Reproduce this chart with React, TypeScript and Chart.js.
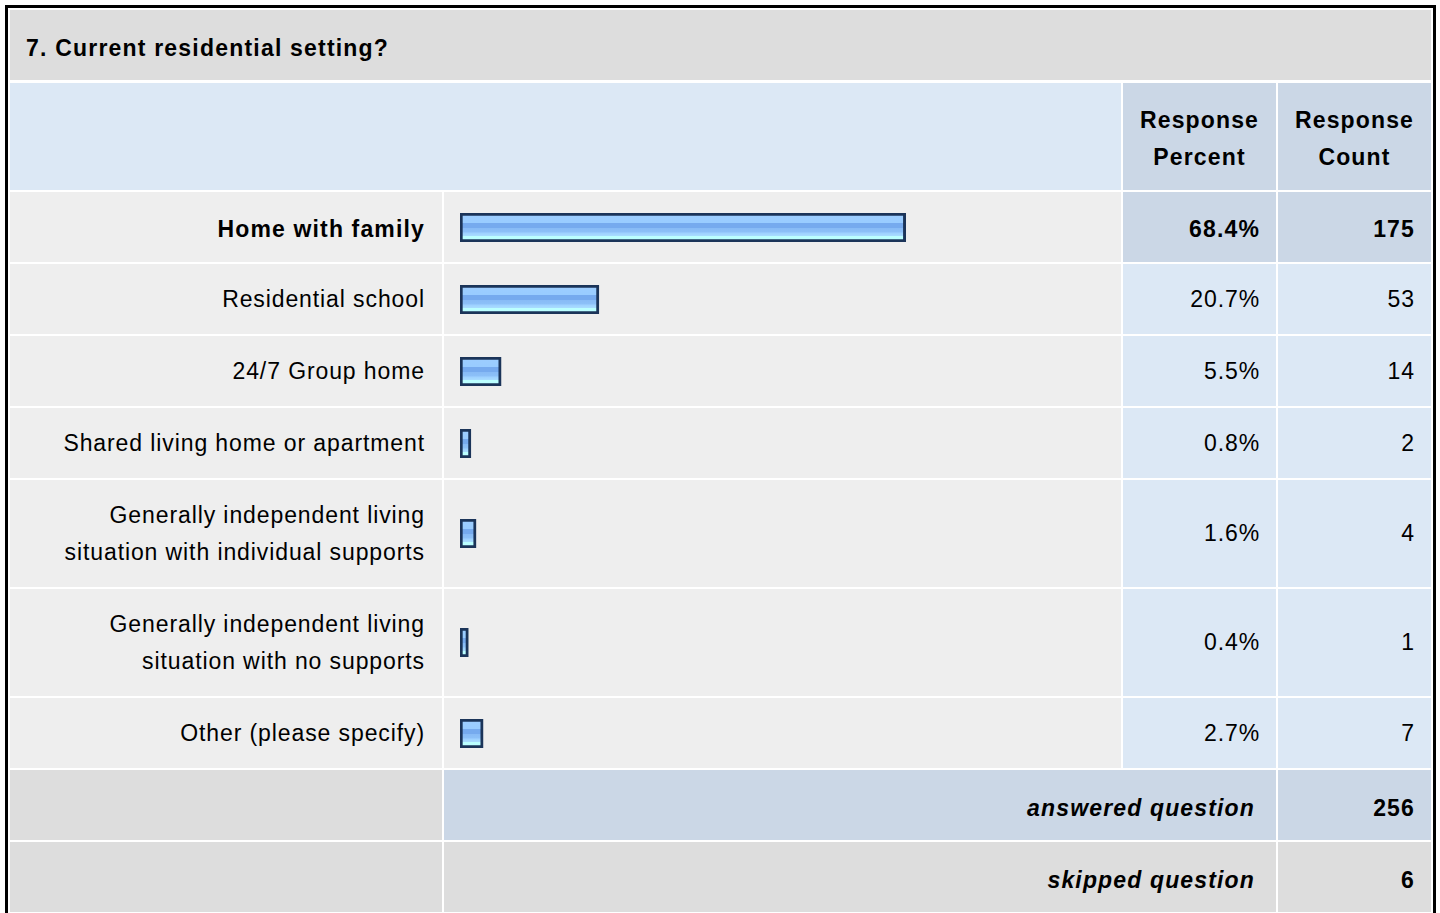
import React, { useEffect, useRef } from "react";
import { Chart, registerables } from "chart.js";

Chart.register(...registerables);

const title = "7. Current residential setting?";
const headerPercent = ["Response", "Percent"];
const headerCount = ["Response", "Count"];
const categories: string[][] = [
  ["Home with family"],
  ["Residential school"],
  ["24/7 Group home"],
  ["Shared living home or apartment"],
  ["Generally independent living", "situation with individual supports"],
  ["Generally independent living", "situation with no supports"],
  ["Other (please specify)"],
];
const percents = [68.4, 20.7, 5.5, 0.8, 1.6, 0.4, 2.7];
const percentLabels = ["68.4%", "20.7%", "5.5%", "0.8%", "1.6%", "0.4%", "2.7%"];
const counts = [175, 53, 14, 2, 4, 1, 7];
const answeredLabel = "answered question";
const answeredCount = 256;
const skippedLabel = "skipped question";
const skippedCount = 6;

const FONT = '"Liberation Sans", Arial, Helvetica, sans-serif';
const FS = 23;
const LS = "0.9px";
const LSB = "1.15px";

function BarCell({ value }: { value: number }) {
  const ref = useRef<HTMLCanvasElement | null>(null);
  useEffect(() => {
    if (!ref.current) return;
    const chart = new Chart(ref.current, {
      type: "bar",
      data: {
        labels: [""],
        datasets: [
          {
            data: [value],
            base: -0.9,
            backgroundColor: (ctx: any) => {
              const ch = ctx.chart;
              const area = ch.chartArea;
              if (!area) return "#99ccff";
              const g = ch.ctx.createLinearGradient(0, area.top + 3, 0, area.bottom - 3);
              g.addColorStop(0, "#9ccdff");
              g.addColorStop(0.29, "#99ccff");
              g.addColorStop(0.31, "#76aaee");
              g.addColorStop(0.5, "#76aaee");
              g.addColorStop(0.53, "#88bbf6");
              g.addColorStop(0.7, "#8cc0f8");
              g.addColorStop(0.73, "#9dd0ff");
              g.addColorStop(0.86, "#a8dcff");
              g.addColorStop(0.89, "#bbffff");
              g.addColorStop(1, "#bbffff");
              return g;
            },
            borderColor: "#1b3459",
            borderWidth: 3,
            borderSkipped: false,
            barPercentage: 1,
            categoryPercentage: 1,
          } as any,
        ],
      },
      options: {
        indexAxis: "y",
        responsive: false,
        maintainAspectRatio: false,
        animation: false,
        layout: { padding: 0 },
        plugins: { legend: { display: false }, tooltip: { enabled: false } },
        scales: {
          x: { display: false, min: -0.9, max: 100 },
          y: { display: false },
        },
      },
    });
    return () => chart.destroy();
  }, [value]);
  return (
    <canvas
      ref={ref}
      width={649}
      height={29}
      style={{ position: "absolute", left: 16, top: "50%", marginTop: -14.5, width: 649, height: 29 }}
    />
  );
}

const cellBase: React.CSSProperties = {
  display: "flex",
  alignItems: "center",
  fontFamily: FONT,
  fontSize: FS,
  letterSpacing: LS,
  color: "#000",
  lineHeight: "37px",
  boxSizing: "border-box",
};

const boldCell: React.CSSProperties = {
  fontWeight: "bold",
  letterSpacing: LSB,
  paddingTop: 4,
};

export default function App() {
  const rowHeights = categories.map((c) => (c.length > 1 ? 107 : 70));
  const gridRows = ["71px", "107px", ...rowHeights.map((h) => h + "px"), "70px", "70px"].join(" ");
  return (
    <div
      style={{
        position: "absolute",
        left: 5,
        top: 5,
        border: "3px solid #000",
        background: "#fff",
        padding: 2,
        width: 1421,
      }}
    >
      <div
        style={{
          display: "grid",
          gridTemplateColumns: "432px 677px 153px 153px",
          gridTemplateRows: gridRows,
          columnGap: 2,
          rowGap: 2,
        }}
      >
        <div
          style={{
            ...cellBase,
            ...boldCell,
            gridColumn: "1 / 5",
            height: 70,
            alignSelf: "start",
            background: "#dddddd",
            paddingLeft: 16,
            paddingTop: 6,
            letterSpacing: "1.2px",
          }}
        >
          {title}
        </div>
        <div style={{ ...cellBase, gridColumn: "1 / 3", background: "#dce8f5" }} />
        <div
          style={{
            ...cellBase,
            ...boldCell,
            background: "#cbd7e6",
            justifyContent: "center",
            textAlign: "center",
          }}
        >
          <div>
            {headerPercent[0]}
            <br />
            {headerPercent[1]}
          </div>
        </div>
        <div
          style={{
            ...cellBase,
            ...boldCell,
            background: "#cbd7e6",
            justifyContent: "center",
            textAlign: "center",
          }}
        >
          <div>
            {headerCount[0]}
            <br />
            {headerCount[1]}
          </div>
        </div>
        {categories.map((lines, i) => {
          const top = i === 0;
          const numBg = top ? "#cbd7e6" : "#dce8f5";
          const weight = top ? boldCell : {};
          return (
            <React.Fragment key={i}>
              <div
                style={{
                  ...cellBase,
                  ...weight,
                  background: "#eeeeee",
                  justifyContent: "flex-end",
                  textAlign: "right",
                  paddingRight: 17,
                }}
              >
                <div>
                  {lines.map((l, j) => (
                    <React.Fragment key={j}>
                      {j > 0 && <br />}
                      {l}
                    </React.Fragment>
                  ))}
                </div>
              </div>
              <div style={{ ...cellBase, background: "#eeeeee", position: "relative" }}>
                <BarCell value={percents[i]} />
              </div>
              <div
                style={{
                  ...cellBase,
                  ...weight,
                  background: numBg,
                  justifyContent: "flex-end",
                  paddingRight: 16,
                }}
              >
                {percentLabels[i]}
              </div>
              <div
                style={{
                  ...cellBase,
                  ...weight,
                  background: numBg,
                  justifyContent: "flex-end",
                  paddingRight: 16,
                }}
              >
                {counts[i]}
              </div>
            </React.Fragment>
          );
        })}
        <div style={{ ...cellBase, background: "#dddddd" }} />
        <div
          style={{
            ...cellBase,
            ...boldCell,
            paddingTop: 6,
            gridColumn: "2 / 4",
            background: "#cbd7e6",
            justifyContent: "flex-end",
            paddingRight: 21,
            fontStyle: "italic",
          }}
        >
          {answeredLabel}
        </div>
        <div
          style={{
            ...cellBase,
            ...boldCell,
            paddingTop: 6,
            background: "#cbd7e6",
            justifyContent: "flex-end",
            paddingRight: 16,
          }}
        >
          {answeredCount}
        </div>
        <div style={{ ...cellBase, background: "#dddddd" }} />
        <div
          style={{
            ...cellBase,
            ...boldCell,
            paddingTop: 6,
            gridColumn: "2 / 4",
            background: "#dddddd",
            justifyContent: "flex-end",
            paddingRight: 21,
            fontStyle: "italic",
          }}
        >
          {skippedLabel}
        </div>
        <div
          style={{
            ...cellBase,
            ...boldCell,
            paddingTop: 6,
            background: "#dddddd",
            justifyContent: "flex-end",
            paddingRight: 16,
          }}
        >
          {skippedCount}
        </div>
      </div>
    </div>
  );
}
